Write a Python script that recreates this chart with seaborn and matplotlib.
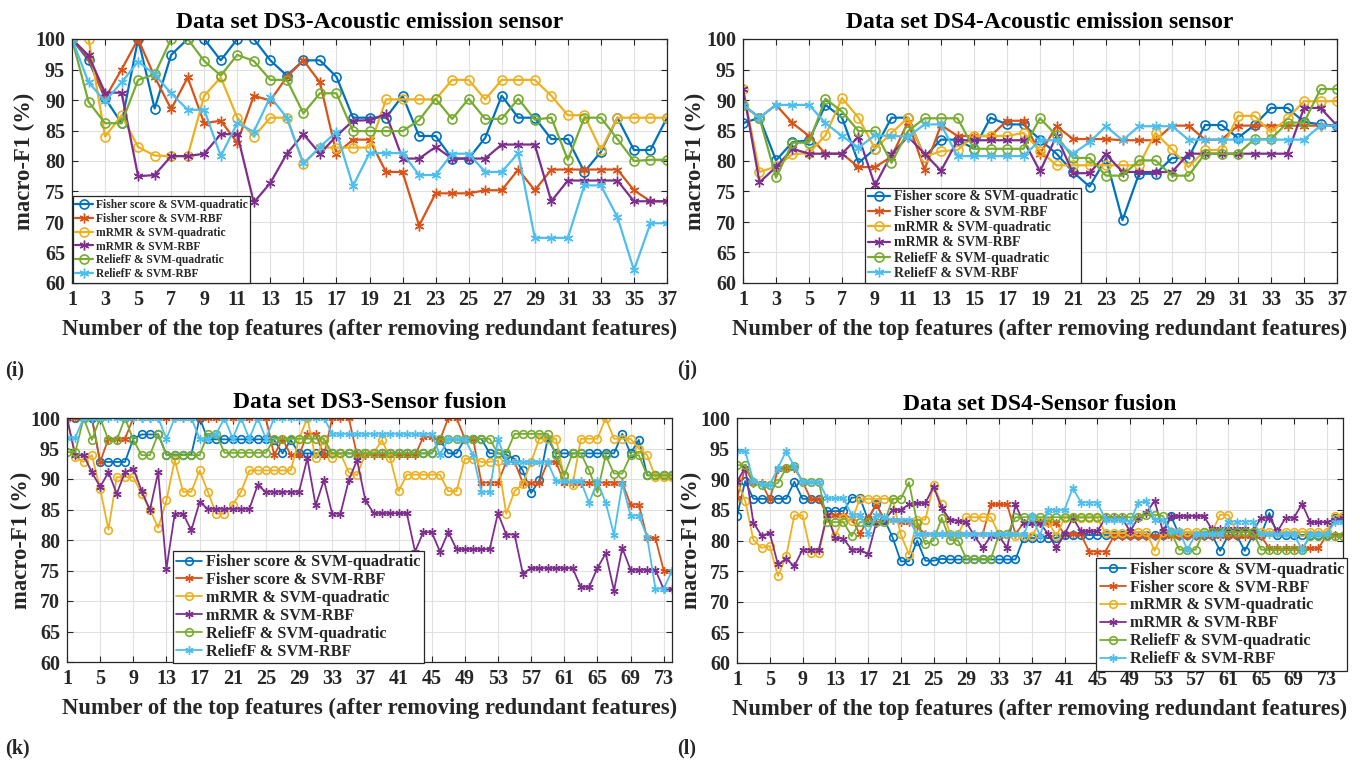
import numpy as np
import pandas as pd
import seaborn as sns
import matplotlib
matplotlib.use("Agg")
import matplotlib.pyplot as plt

sns.set_style("ticks")
plt.rcParams['font.family'] = ['Liberation Serif', 'DejaVu Serif']
plt.rcParams['font.weight'] = 'bold'

# ---------------- data ----------------
methods = ["Fisher score & SVM-quadratic", "Fisher score & SVM-RBF",
           "mRMR & SVM-quadratic", "mRMR & SVM-RBF",
           "ReliefF & SVM-quadratic", "ReliefF & SVM-RBF"]

# (i) DS3 - acoustic emission sensor, 37 features
fs_quad_i = [100, 96.5, 90.3, 86.2, 100, 88.6, 97.4, 100, 100, 96.5, 100, 100, 96.5, 94.0, 96.5, 96.5, 93.8, 87.1, 87.1, 87.1,
             90.7, 84.1, 84.1, 80.4, 80.4, 83.8, 90.7, 87.1, 87.1, 83.6, 83.6, 78.2, 81.5, 87.1, 81.8, 81.8, 87.1]
fs_rbf_i = [100, 96.9, 90.3, 95.0, 100, 93.8, 88.5, 93.7, 86.2, 86.6, 83.0, 90.7, 89.9, 93.8, 96.5, 92.9, 81.2, 83.5, 83.5, 78.2,
            78.2, 69.4, 74.7, 74.7, 74.7, 75.2, 75.2, 78.6, 75.2, 78.6, 78.6, 78.6, 78.6, 78.6, 75.2, 73.4, 73.4]
mrmr_quad_i = [100, 100, 84.0, 87.5, 82.3, 80.9, 80.8, 80.8, 90.7, 93.7, 87.1, 84.0, 87.1, 87.1, 79.5, 82.2, 82.2, 82.2, 82.2, 90.1,
               90.1, 90.1, 90.1, 93.3, 93.3, 90.1, 93.3, 93.3, 93.3, 90.7, 87.5, 87.5, 81.8, 87.1, 87.1, 87.1, 87.1]
mrmr_rbf_i = [100, 97.3, 91.2, 91.2, 77.5, 77.7, 80.8, 80.8, 81.2, 84.4, 84.4, 73.2, 76.4, 81.2, 84.4, 81.2, 84.1, 86.6, 86.7, 87.7,
              80.4, 80.4, 82.3, 80.4, 80.4, 80.4, 82.7, 82.7, 82.7, 73.4, 76.8, 76.8, 76.8, 76.8, 73.4, 73.4, 73.4]
relief_quad_i = [100, 89.7, 86.2, 86.2, 93.3, 94.2, 100, 100, 96.4, 94.0, 97.4, 96.4, 93.3, 93.3, 87.8, 91.1, 91.1, 84.9, 84.9, 84.9,
                 84.9, 86.7, 90.2, 86.9, 90.2, 86.9, 86.9, 90.2, 86.8, 87.1, 80.2, 87.1, 87.1, 83.6, 80.0, 80.2, 80.2]
relief_rbf_i = [100, 92.9, 89.8, 92.9, 96.3, 94.2, 91.1, 88.4, 88.4, 80.8, 86.2, 84.8, 90.5, 87.1, 79.6, 82.3, 84.8, 75.9, 81.3, 81.3,
                81.3, 77.7, 77.7, 81.2, 81.2, 78.2, 78.2, 81.3, 67.4, 67.4, 67.4, 76.0, 76.0, 70.8, 62.1, 69.8, 69.8]

# (j) DS4 - acoustic emission sensor, 37 features
fs_quad_j = [86.2, 87.1, 80.1, 83.1, 83.4, 89.2, 87.1, 79.7, 82.0, 87.1, 87.1, 80.7, 83.5, 83.5, 82.0, 87.1, 86.0, 86.0, 83.5, 81.2,
             78.2, 75.8, 80.4, 70.3, 77.9, 77.9, 80.5, 80.5, 85.9, 85.9, 83.8, 85.9, 88.7, 88.7, 86.4, 86.0, 85.8]
fs_rbf_j = [89.2, 87.1, 89.2, 86.2, 84.1, 81.2, 81.2, 79.0, 79.0, 80.7, 86.4, 78.6, 85.9, 84.1, 84.1, 84.1, 86.6, 86.6, 81.2, 85.7,
            83.6, 83.6, 83.6, 83.4, 83.4, 83.4, 85.8, 85.8, 83.5, 83.5, 85.8, 85.8, 85.8, 85.8, 85.8, 85.8, 85.8]
mrmr_quad_j = [91.8, 78.2, 79.1, 81.1, 81.3, 84.2, 90.3, 87.1, 82.0, 84.6, 87.1, 80.7, 81.6, 81.8, 84.1, 84.1, 84.1, 84.6, 81.7, 79.3,
               79.3, 79.3, 79.3, 79.3, 79.3, 84.6, 81.9, 79.0, 81.8, 81.8, 87.4, 87.4, 84.7, 87.0, 89.8, 89.8, 89.8]
mrmr_rbf_j = [91.8, 76.5, 79.0, 82.0, 81.2, 81.2, 81.2, 84.0, 76.0, 81.1, 84.0, 81.2, 78.4, 83.4, 83.4, 83.4, 83.4, 83.4, 78.3, 84.1,
              78.0, 78.0, 81.1, 78.2, 78.2, 78.2, 78.2, 81.2, 81.2, 81.2, 81.2, 81.2, 81.2, 81.2, 88.7, 88.7, 85.8]
relief_quad_j = [89.2, 87.1, 77.3, 83.0, 83.0, 90.2, 88.1, 84.9, 84.9, 79.7, 84.9, 87.0, 87.0, 87.0, 82.0, 82.0, 82.0, 82.0, 87.0, 84.2,
                 80.5, 80.5, 77.6, 77.6, 80.1, 80.1, 77.6, 77.6, 81.2, 81.2, 81.2, 83.6, 83.6, 86.3, 86.3, 91.8, 91.8]
relief_rbf_j = [89.2, 87.1, 89.2, 89.2, 89.2, 86.2, 84.1, 82.2, 84.2, 84.1, 84.0, 86.0, 86.0, 80.8, 80.8, 80.8, 80.8, 80.8, 83.4, 83.4,
                81.2, 83.1, 85.7, 83.4, 85.7, 85.7, 85.7, 83.5, 83.5, 83.5, 83.5, 83.5, 83.5, 83.5, 83.5, 85.8, 85.8]

# (k) DS3 - sensor fusion, 74 features
fs_quad_k = [100, 100, 100, 100, 92.8, 92.8, 92.8, 92.8, 96.6, 97.3,
             97.3, 97.3, 94.0, 94.0, 94.0, 94.0, 100, 96.5, 96.5, 96.5,
             96.5, 96.5, 96.5, 96.5, 96.5, 96.4, 94.2, 96.4, 94.2, 94.2,
             94.2, 94.2, 94.2, 94.2, 94.2, 94.2, 94.2, 94.2, 94.2, 94.2,
             94.2, 94.2, 94.2, 94.2, 94.2, 96.4, 94.2, 94.2, 96.6, 96.6,
             96.6, 94.2, 94.2, 94.0, 93.3, 91.4, 87.7, 89.8, 96.6, 94.2,
             94.2, 94.2, 94.2, 94.2, 94.2, 94.2, 94.2, 97.4, 94.2, 96.4,
             90.6, 90.6, 90.6, 90.6]
fs_rbf_k = [100, 100, 100, 100, 92.8, 96.6, 96.6, 96.6, 100, 100,
            100, 100, 100, 100, 100, 100, 100, 100, 100, 100,
            100, 100, 100, 100, 100, 93.9, 96.6, 93.9, 93.9, 97.4,
            97.4, 93.9, 100, 100, 100, 93.9, 93.9, 93.9, 93.9, 93.9,
            93.9, 93.9, 93.9, 96.9, 96.9, 96.4, 100, 100, 96.6, 96.6,
            89.4, 89.4, 89.4, 92.8, 92.8, 89.4, 89.4, 89.4, 92.8, 92.8,
            89.4, 89.4, 89.4, 89.4, 89.4, 89.4, 89.4, 89.4, 85.8, 85.8,
            80.3, 80.3, 75.0, 75.0]
mrmr_quad_k = [100, 93.6, 92.8, 93.9, 88.4, 81.7, 90.3, 90.3, 90.3, 87.6,
               85.0, 82.0, 86.5, 93.1, 87.9, 87.9, 91.4, 87.9, 84.3, 84.3,
               85.8, 87.9, 91.4, 91.4, 91.4, 91.4, 91.4, 91.4, 96.6, 100,
               93.4, 96.4, 93.4, 94.2, 91.1, 90.6, 94.2, 94.2, 96.4, 93.4,
               88.0, 90.7, 90.7, 90.7, 90.7, 90.7, 88.0, 88.0, 93.3, 93.3,
               92.8, 92.8, 93.0, 84.3, 88.0, 89.2, 92.8, 96.6, 96.6, 96.6,
               90.3, 89.0, 96.6, 96.6, 96.6, 100, 96.6, 96.6, 96.6, 95.0,
               93.9, 90.3, 90.3, 90.3]
mrmr_rbf_k = [100, 93.9, 93.9, 91.1, 88.7, 91.1, 87.6, 91.1, 91.7, 88.1,
              84.9, 91.1, 75.3, 84.3, 84.3, 81.6, 86.2, 85.1, 85.1, 85.1,
              85.1, 85.1, 85.1, 89.0, 87.9, 87.9, 87.9, 87.9, 87.9, 93.4,
              85.7, 89.8, 84.3, 84.3, 89.8, 93.1, 86.5, 84.4, 84.4, 84.4,
              84.4, 84.4, 78.1, 81.3, 81.3, 78.1, 81.3, 78.5, 78.5, 78.5,
              78.5, 78.5, 84.4, 80.9, 80.9, 74.5, 75.4, 75.4, 75.4, 75.4,
              75.4, 75.4, 72.3, 72.3, 75.4, 77.8, 71.7, 78.7, 75.1, 75.1,
              75.1, 75.1, 71.9, 71.9]
relief_quad_k = [94.4, 94.4, 100, 96.4, 100, 96.4, 96.4, 100, 96.4, 93.9,
                 93.9, 97.4, 93.9, 93.9, 93.9, 93.9, 93.9, 97.4, 97.4, 94.3,
                 94.3, 94.3, 94.3, 94.3, 94.3, 96.6, 96.6, 96.6, 96.6, 96.6,
                 96.6, 96.6, 94.2, 94.2, 94.2, 94.2, 94.2, 94.2, 94.2, 94.2,
                 94.2, 94.2, 94.2, 94.2, 94.2, 96.6, 96.6, 96.6, 96.6, 96.6,
                 96.6, 96.6, 94.2, 94.2, 97.4, 97.4, 97.4, 97.4, 97.4, 93.9,
                 90.6, 94.2, 94.2, 91.4, 87.8, 93.9, 90.9, 90.9, 93.9, 93.9,
                 90.6, 90.6, 90.6, 90.6]
relief_rbf_k = [96.8, 96.8, 100, 100, 100, 100, 100, 100, 100, 100,
                100, 100, 96.6, 100, 100, 100, 96.6, 96.6, 97.4, 100,
                96.6, 100, 96.6, 100, 96.6, 100, 100, 100, 100, 100,
                100, 100, 97.4, 97.4, 97.4, 97.4, 97.4, 97.4, 97.4, 97.4,
                97.4, 97.4, 97.4, 97.4, 97.4, 93.9, 96.6, 96.6, 96.6, 93.9,
                87.9, 87.9, 96.6, 92.8, 92.8, 92.8, 92.8, 92.8, 92.8, 89.6,
                89.6, 89.6, 89.6, 86.1, 89.6, 86.1, 80.9, 89.2, 84.0, 84.0,
                80.5, 72.0, 72.0, 75.0]

# (l) DS4 - sensor fusion, 75 features
fs_quad_l = [84.0, 89.7, 86.8, 86.8, 86.8, 86.8, 86.8, 89.6, 86.8, 86.8,
             86.8, 84.8, 84.8, 84.8, 87.0, 87.0, 83.4, 85.9, 83.4, 80.5,
             76.6, 76.6, 80.0, 76.7, 76.7, 77.0, 76.9, 76.9, 76.9, 76.9,
             76.9, 76.9, 76.9, 76.9, 76.9, 80.4, 80.4, 80.4, 80.4, 80.4,
             80.9, 80.9, 80.9, 80.9, 80.9, 80.9, 80.9, 80.9, 80.9, 80.9,
             80.9, 80.9, 80.9, 84.0, 80.9, 80.9, 80.9, 80.9, 80.9, 78.3,
             80.9, 80.9, 78.3, 80.9, 80.9, 84.5, 80.9, 80.9, 80.9, 80.9,
             80.9, 80.9, 80.9, 83.7, 83.7]
fs_rbf_l = [86.9, 91.9, 89.4, 89.4, 86.7, 91.6, 91.9, 91.9, 89.6, 86.8,
            86.8, 84.2, 84.2, 84.2, 83.7, 81.0, 83.6, 85.9, 83.4, 83.4,
            83.1, 83.1, 82.3, 81.0, 81.0, 81.0, 81.0, 81.0, 81.0, 81.0,
            81.0, 85.9, 85.9, 85.9, 81.0, 82.9, 82.9, 82.9, 82.9, 82.9,
            81.0, 81.0, 81.0, 78.2, 78.2, 78.2, 80.7, 80.7, 80.7, 80.7,
            80.7, 80.7, 80.7, 80.7, 80.7, 80.7, 80.7, 80.7, 80.7, 80.7,
            80.7, 80.7, 80.7, 80.7, 80.7, 78.7, 78.7, 78.7, 78.7, 78.7,
            78.7, 78.7, 80.9, 80.9, 80.9]
mrmr_quad_l = [89.7, 86.5, 80.1, 78.8, 79.1, 74.2, 77.4, 84.1, 84.1, 78.0,
               78.0, 84.0, 80.8, 83.7, 83.2, 86.8, 86.8, 86.8, 86.8, 86.8,
               81.0, 77.7, 83.4, 83.4, 89.1, 85.9, 81.0, 81.0, 83.8, 83.8,
               83.8, 83.8, 81.0, 81.0, 80.7, 80.7, 80.7, 83.1, 83.1, 80.7,
               83.7, 83.7, 83.7, 83.7, 83.7, 81.2, 81.2, 81.2, 81.4, 81.4,
               81.4, 78.3, 81.4, 81.4, 81.4, 81.4, 81.4, 81.4, 81.4, 84.2,
               84.2, 81.4, 81.4, 81.4, 81.4, 81.4, 81.4, 81.4, 81.4, 81.4,
               81.4, 81.4, 81.4, 84.0, 84.0]
mrmr_rbf_l = [89.6, 91.9, 82.9, 80.8, 81.2, 76.1, 77.0, 75.8, 78.5, 78.5,
              78.5, 84.2, 80.4, 80.3, 78.5, 78.5, 77.8, 82.9, 83.4, 84.9,
              85.0, 85.9, 86.1, 86.1, 88.8, 85.3, 83.4, 83.2, 83.0, 80.7,
              78.8, 80.7, 80.7, 78.8, 85.9, 82.9, 82.9, 82.9, 81.0, 78.8,
              81.0, 83.7, 81.5, 81.5, 81.5, 83.7, 83.7, 83.7, 81.5, 83.7,
              84.5, 86.5, 81.5, 84.0, 84.0, 84.0, 84.0, 84.0, 81.8, 81.8,
              81.8, 81.8, 81.8, 81.5, 83.7, 83.7, 81.5, 83.7, 83.7, 86.0,
              83.0, 83.0, 83.0, 83.4, 83.7]
relief_quad_l = [92.3, 92.3, 89.6, 89.1, 89.0, 89.4, 91.8, 92.1, 89.6, 89.6,
                 89.6, 83.0, 83.0, 83.0, 80.7, 83.0, 83.0, 83.0, 83.0, 86.8,
                 86.8, 89.5, 82.9, 79.4, 80.0, 83.7, 80.1, 80.0, 77.0, 77.0,
                 77.0, 77.0, 81.0, 81.0, 83.8, 83.8, 83.8, 83.8, 83.8, 83.8,
                 83.8, 83.8, 83.8, 83.8, 83.8, 83.8, 83.8, 83.8, 83.8, 83.8,
                 84.2, 84.2, 84.0, 81.4, 78.5, 78.5, 78.5, 81.4, 81.4, 81.4,
                 81.4, 81.4, 81.4, 81.4, 78.5, 78.5, 78.5, 78.5, 78.5, 78.5,
                 80.7, 80.7, 80.7, 80.7, 80.7]
relief_rbf_l = [94.6, 94.6, 89.7, 89.2, 89.1, 91.8, 94.6, 92.1, 89.6, 89.6,
                89.6, 86.9, 86.9, 86.9, 84.2, 84.2, 81.1, 84.2, 83.8, 83.4,
                83.4, 83.4, 81.0, 81.0, 81.0, 81.0, 81.0, 81.0, 81.0, 81.0,
                81.0, 81.0, 81.0, 81.0, 81.0, 81.0, 84.0, 80.8, 85.0, 85.0,
                85.0, 88.6, 86.2, 86.2, 86.2, 83.4, 83.4, 83.4, 83.0, 86.2,
                86.4, 83.4, 83.4, 81.5, 81.5, 78.5, 81.0, 81.0, 81.0, 81.0,
                83.1, 83.1, 83.1, 83.1, 81.0, 81.0, 81.0, 81.0, 81.0, 78.5,
                81.0, 81.0, 81.0, 83.0, 83.0]

titles = ["Data set DS3-Acoustic emission sensor", "Data set DS4-Acoustic emission sensor",
          "Data set DS3-Sensor fusion", "Data set DS4-Sensor fusion"]
panel_tags = ["(i)", "(j)", "(k)", "(l)"]
xlabel_text = "Number of the top features (after removing redundant features)"
ylabel_text = "macro-F1 (%)"
yticks = [60, 65, 70, 75, 80, 85, 90, 95, 100]
xticks_ae = list(range(1, 38, 2))
xticks_fu = list(range(1, 74, 4))

panels = [
    [fs_quad_i, fs_rbf_i, mrmr_quad_i, mrmr_rbf_i, relief_quad_i, relief_rbf_i],
    [fs_quad_j, fs_rbf_j, mrmr_quad_j, mrmr_rbf_j, relief_quad_j, relief_rbf_j],
    [fs_quad_k, fs_rbf_k, mrmr_quad_k, mrmr_rbf_k, relief_quad_k, relief_rbf_k],
    [fs_quad_l, fs_rbf_l, mrmr_quad_l, mrmr_rbf_l, relief_quad_l, relief_rbf_l],
]

# ---------------- styling ----------------
colors = ["#0072BD", "#D95319", "#EDB120", "#7E2F8E", "#77AC30", "#4DBEEE"]
asterisk = (6, 2, 0)
markers = ["o", asterisk, "o", asterisk, "o", asterisk]
ink = "#262626"

W, H = 1360, 765
fig = plt.figure(figsize=(W / 100, H / 100), dpi=100)

def px_rect(l, t, r, b):
    return [l / W, 1 - b / H, (r - l) / W, (b - t) / H]

rects = [px_rect(72, 39, 667, 283), px_rect(743, 39, 1337, 283),
         px_rect(67, 418, 672, 662), px_rect(737, 418, 1343, 663)]
xlims = [(1, 37), (1, 37), (1, 74), (1, 75)]
xtick_sets = [xticks_ae, xticks_ae, xticks_fu, xticks_fu]
leg_anchor = [(0.001, 0.001), (0.206, 0.0), (0.175, -0.005), (0.593, -0.031)]
leg_size = [8.3, 10.0, 11.7, 11.7]
leg_spacing = [0.17, 0.17, 0.12, 0.12]
ylab_x = [-0.062, -0.062, -0.058, -0.058]
title_y = [22, 22, 402, 404]
tag_pos = [(5, 370), (677, 370), (5, 748), (677, 748)]
msize = [6.5, 6.5, 5.5, 5.5]
lw = [1.6, 1.6, 1.3, 1.3]

for p in range(4):
    ax = fig.add_axes(rects[p])
    series = panels[p]
    for k, vals in enumerate(series):
        xs = np.arange(1, len(vals) + 1)
        df = pd.DataFrame({"feat": xs, "f1": vals})
        is_star = k % 2 == 1
        sns.lineplot(data=df, x="feat", y="f1", ax=ax, color=colors[k],
                     marker=markers[k], markersize=msize[p] + (0.5 if is_star else 0),
                     markeredgecolor=colors[k], markerfacecolor="none",
                     markeredgewidth=1.2 if not is_star else 1.0,
                     linewidth=lw[p], label=methods[k], sort=False, errorbar=None)
    ax.set_xlim(*xlims[p])
    ax.set_ylim(60, 100)
    ax.set_xticks(xtick_sets[p])
    ax.set_yticks(yticks)
    ax.grid(True, color="#e1e1e1", linewidth=0.8)
    ax.set_axisbelow(True)
    for s in ax.spines.values():
        s.set_color(ink)
        s.set_linewidth(0.9)
    ax.tick_params(direction="in", top=True, right=True, length=4, width=0.8,
                   labelsize=14.5, colors=ink, labelcolor=ink, pad=5)
    for lab in ax.get_xticklabels() + ax.get_yticklabels():
        lab.set_fontweight("bold")
    ax.set_xlabel(xlabel_text, fontsize=16.3, fontweight="bold", color=ink)
    ax.set_ylabel(ylabel_text, fontsize=16.3, fontweight="bold", color=ink)
    ax.xaxis.set_label_coords(0.5, -0.147)
    ax.yaxis.set_label_coords(ylab_x[p], 0.5)
    cx = (rects[p][0] + rects[p][2] / 2)
    fig.text(cx, 1 - title_y[p] / H, titles[p], ha="center", va="center",
             fontsize=17, fontweight="bold", color="black")
    fig.text(tag_pos[p][0] / W, 1 - tag_pos[p][1] / H, panel_tags[p],
             ha="left", va="center", fontsize=14.5, fontweight="bold", color=ink)
    handles = ax.get_lines()[:6]
    leg = ax.legend(handles, methods, loc="lower left", bbox_to_anchor=leg_anchor[p],
                    borderaxespad=0, frameon=True, fancybox=False, framealpha=1,
                    edgecolor=ink, prop={"weight": "bold", "size": leg_size[p]},
                    handlelength=1.6, handletextpad=0.25, labelspacing=leg_spacing[p],
                    borderpad=0.2)
    for t in leg.get_texts():
        t.set_color(ink)
    leg.get_frame().set_linewidth(0.9)

fig.savefig("out.png", dpi=100)
